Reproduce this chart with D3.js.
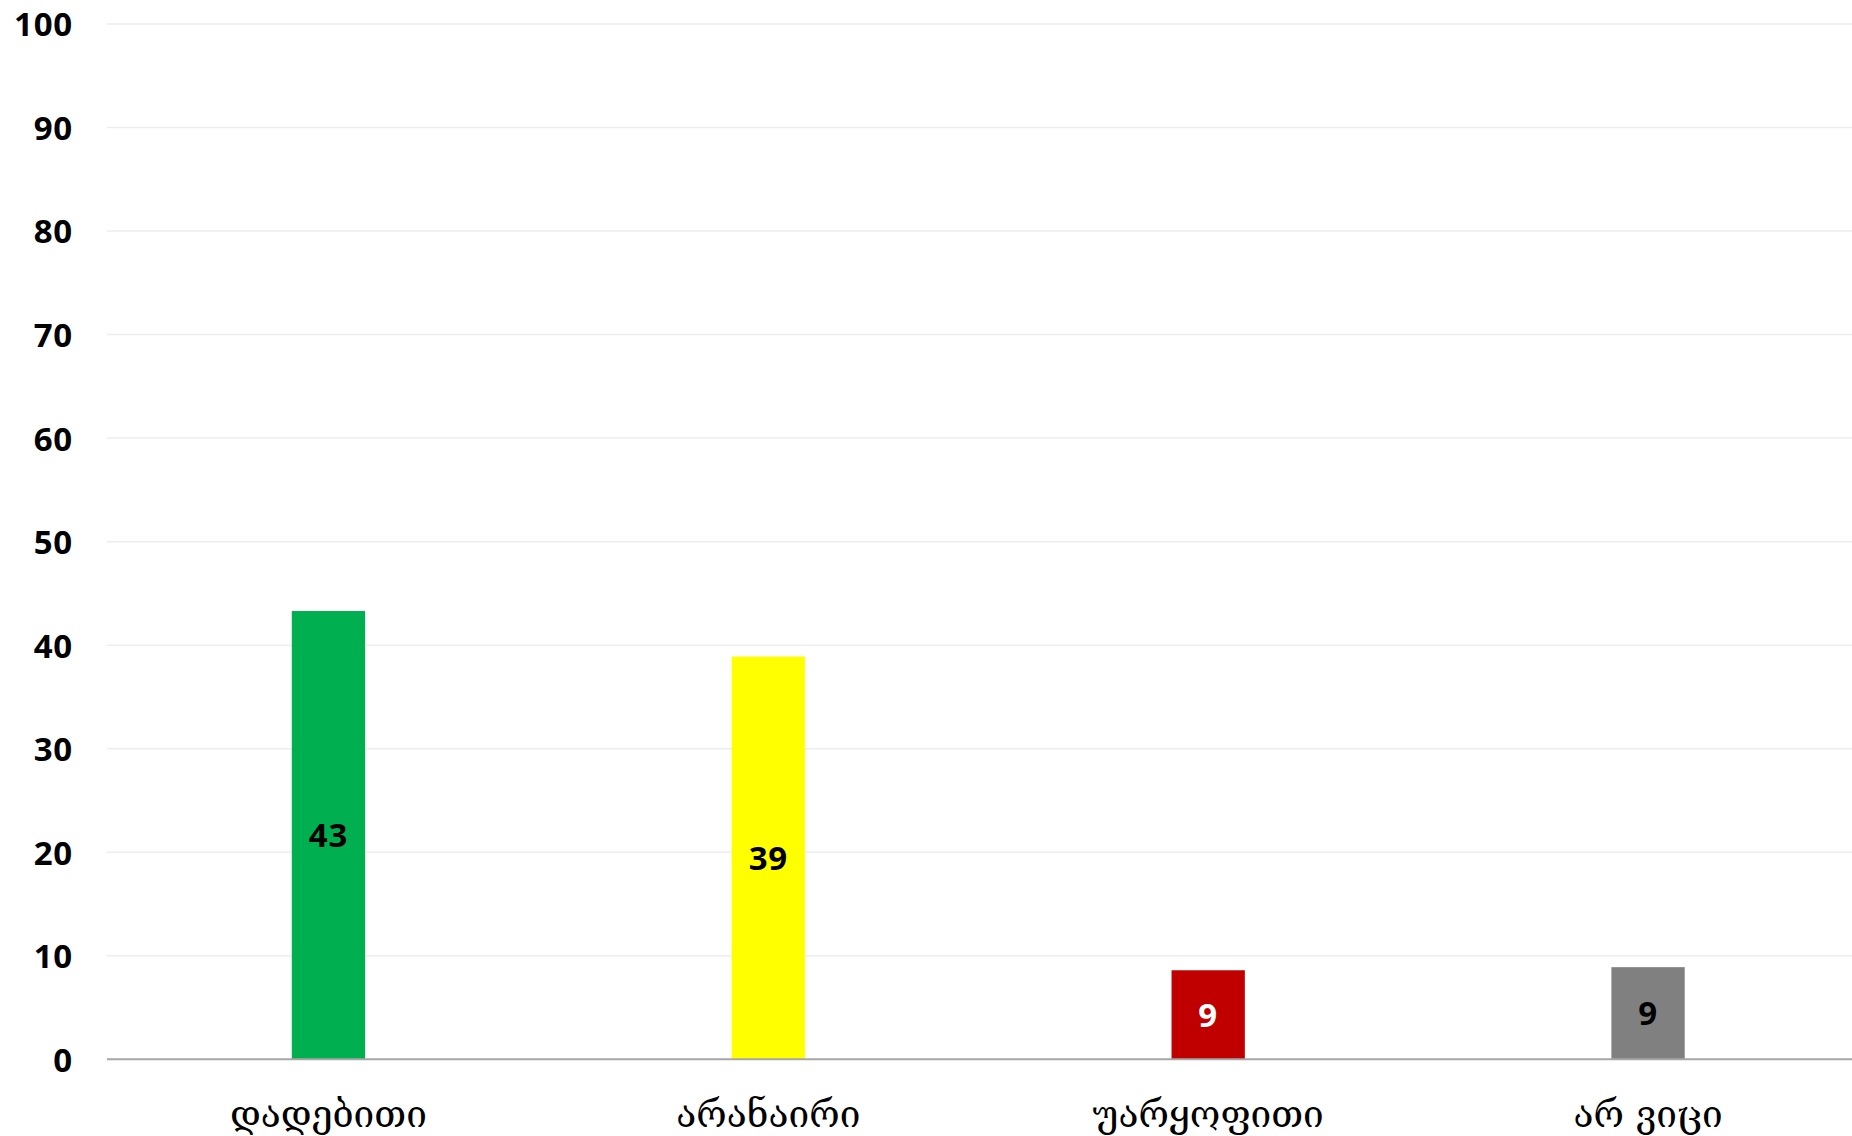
<!DOCTYPE html>
<html>
<head>
<meta charset="utf-8">
<script src="https://d3js.org/d3.v7.min.js"></script>
<style>
html,body{margin:0;padding:0;background:#fff;}
svg{display:block;}
</style>
</head>
<body>
<svg id="chart" width="1852" height="1136"></svg>
<script>
const categories = ["დადებითი", "არანაირი", "უარყოფითი", "არ ვიცი"];
const values = [43.3, 38.9, 8.6, 8.9];
const labels = ["43", "39", "9", "9"];
const barColors = ["#00B050", "#FFFF00", "#C00000", "#808080"];
const labelColors = ["#000000", "#000000", "#FFFFFF", "#000000"];
const yTicks = [0, 10, 20, 30, 40, 50, 60, 70, 80, 90, 100];

const svg = d3.select("#chart");
const axisLeftX = 107, bandLeft = 108.5, bandRight = 1868, plotTop = 24, plotBottom = 1059.3;

const x = d3.scaleBand().domain(categories).range([bandLeft, bandRight])
  .paddingInner(5/6).paddingOuter(5/12);
const y = d3.scaleLinear().domain([0, 100]).range([plotBottom, plotTop]);

// gridlines
svg.append("g").selectAll("line").data(yTicks.filter(d => d > 0)).join("line")
  .attr("x1", axisLeftX).attr("x2", 1852)
  .attr("y1", d => y(d)).attr("y2", d => y(d))
  .attr("stroke", "#ededed").attr("stroke-width", 1.5);

// y axis labels
const yAxis = d3.axisLeft(y).tickValues(yTicks).tickSize(0).tickPadding(0);
const gy = svg.append("g").attr("transform", `translate(73,0)`).call(yAxis);
gy.select(".domain").remove();
gy.selectAll("text")
  .attr("font-family", "'Open Sans', sans-serif")
  .attr("font-weight", "bold")
  .attr("font-size", 33)
  .attr("letter-spacing", 0.8)
  .attr("fill", "#000")
  .attr("dy", "0.36em");

// bars
svg.append("g").selectAll("rect").data(values).join("rect")
  .attr("x", (d, i) => x(categories[i]))
  .attr("width", x.bandwidth())
  .attr("y", d => y(d))
  .attr("height", d => y(0) - y(d))
  .attr("fill", (d, i) => barColors[i]);

// axis line
const xAxis = d3.axisBottom(x).tickSize(0).tickPadding(0);
const gx = svg.append("g").attr("transform", `translate(0,${plotBottom})`).call(xAxis);
gx.select(".domain").attr("d", `M${axisLeftX},0H1852`).attr("stroke", "#a6a6a6").attr("stroke-width", 2);
gx.selectAll("text")
  .attr("font-family", "'DejaVu Serif', 'DejaVu Sans', serif")
  .attr("font-size", 37)
  .attr("fill", "#000")
  .attr("y", 55)
  .attr("dy", "0.35em");

// data labels
svg.append("g").selectAll("text").data(values).join("text")
  .attr("x", (d, i) => x(categories[i]) + x.bandwidth() / 2)
  .attr("y", d => (y(d) + y(0)) / 2)
  .attr("dy", "0.36em")
  .attr("text-anchor", "middle")
  .attr("font-family", "'Open Sans', sans-serif")
  .attr("font-weight", "bold")
  .attr("font-size", 33)
  .attr("letter-spacing", 0.8)
  .attr("fill", (d, i) => labelColors[i])
  .text((d, i) => labels[i]);
</script>
</body>
</html>
